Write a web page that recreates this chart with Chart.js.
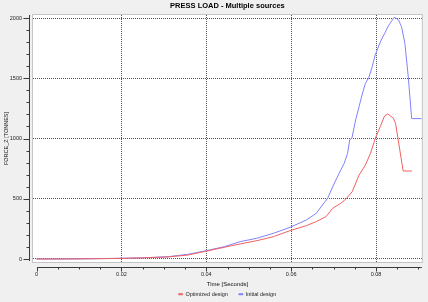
<!DOCTYPE html>
<html>
<head>
<meta charset="utf-8">
<script src="https://cdn.jsdelivr.net/npm/chart.js@4"></script>
<style>
  html, body { margin: 0; padding: 0; background: #f0f0f0; }
  canvas { display: block; }
</style>
</head>
<body>
<canvas id="chart" width="428" height="302"></canvas>
<script>
// Initial design (blue)
const initialTime = [0, 0.005, 0.01, 0.015, 0.02, 0.025, 0.031, 0.0357, 0.04, 0.0442, 0.048, 0.0519, 0.0558, 0.0597, 0.0636, 0.0659, 0.0686, 0.0698, 0.0713, 0.0725, 0.0733, 0.0738, 0.0743, 0.0752, 0.076, 0.0767, 0.0775, 0.0783, 0.0791, 0.0798, 0.081, 0.082, 0.083, 0.0837, 0.0843, 0.0853, 0.086, 0.0868, 0.0876, 0.0884, 0.0907];
const initialForce = [0, 0, 1, 3, 6, 10, 19, 39, 69, 102, 144, 172, 213, 262, 324, 379, 504, 600, 711, 794, 877, 988, 1002, 1154, 1264, 1361, 1458, 1505, 1596, 1693, 1800, 1870, 1940, 1975, 2006, 1984, 1929, 1790, 1513, 1165, 1165];

// Optimized design (red)
const optimizedTime = [0, 0.005, 0.01, 0.015, 0.02, 0.025, 0.031, 0.0357, 0.04, 0.0442, 0.048, 0.0519, 0.0558, 0.0597, 0.0636, 0.0659, 0.0682, 0.0698, 0.0717, 0.0729, 0.0744, 0.076, 0.0775, 0.0787, 0.0798, 0.081, 0.082, 0.0828, 0.0841, 0.0846, 0.0864, 0.0885];
const optimizedForce = [0, 0, 1, 3, 5, 9, 17, 33, 65, 97, 125, 152, 185, 235, 277, 310, 351, 421, 462, 498, 559, 697, 780, 877, 998, 1098, 1187, 1204, 1168, 1126, 730, 730];

const toPoints = (xs, ys) => xs.map((x, i) => ({ x: x, y: ys[i] }));

const FONT = "'Liberation Sans', Arial, sans-serif";
const isMajorX = v => Math.round(v * 1000) % 20 === 0;
const isMajorY = v => Math.round(v) % 500 === 0;

// plot background + offset axis lines like the original tool
const plotFrame = {
  id: "plotFrame",
  beforeDraw(chart) {
    const { ctx, chartArea: a } = chart;
    ctx.save();
    ctx.fillStyle = "#f0f0f0";
    ctx.fillRect(0, 0, chart.width, chart.height);
    ctx.fillStyle = "#ffffff";
    ctx.fillRect(a.left, a.top, a.right - a.left, a.bottom - a.top);
    ctx.strokeStyle = "#c4c4c4";
    ctx.lineWidth = 1;
    ctx.strokeRect(a.left - 0.5, a.top - 0.5, a.right - a.left + 1, a.bottom - a.top + 1);
    ctx.restore();
  },
  afterDraw(chart) {
    const { ctx, chartArea: a, scales } = chart;
    const x = scales.x, y = scales.y;
    ctx.save();
    ctx.strokeStyle = "#3a3a3a";
    ctx.lineWidth = 1;
    ctx.beginPath();
    // y axis
    const ax = Math.round(a.left) - 3 - 0.5;
    const y0 = Math.round(y.getPixelForValue(0));
    ctx.moveTo(ax, a.top);
    ctx.lineTo(ax, y0 + 2);
    y.ticks.forEach(t => {
      const py = Math.round(y.getPixelForValue(t.value)) + 0.5;
      const len = isMajorY(t.value) ? 6 : 3;
      ctx.moveTo(ax, py);
      ctx.lineTo(ax - len, py);
    });
    // x axis
    const ay = Math.round(a.bottom) + 5 + 0.5;
    const x0 = Math.round(x.getPixelForValue(0));
    ctx.moveTo(x0, ay);
    ctx.lineTo(a.right, ay);
    x.ticks.forEach(t => {
      const px = Math.round(x.getPixelForValue(t.value)) + 0.5;
      const len = isMajorX(t.value) ? 4 : 2;
      ctx.moveTo(px, ay);
      ctx.lineTo(px, ay + len);
    });
    ctx.stroke();
    ctx.restore();
  }
};

new Chart(document.getElementById("chart"), {
  type: "line",
  data: {
    datasets: [
      {
        label: "Optimized design",
        data: toPoints(optimizedTime, optimizedForce),
        borderColor: "#f06262",
        backgroundColor: "#f06262",
        borderWidth: 1,
        pointRadius: 0,
        tension: 0,
        fill: false
      },
      {
        label: "Initial design",
        data: toPoints(initialTime, initialForce),
        borderColor: "#8282ff",
        backgroundColor: "#8282ff",
        borderWidth: 1,
        pointRadius: 0,
        tension: 0,
        fill: false
      }
    ]
  },
  options: {
    responsive: false,
    animation: false,
    layout: { padding: { left: 0, right: 1, top: 0, bottom: -5 } },
    plugins: {
      title: {
        display: true,
        text: "PRESS LOAD - Multiple sources",
        fullSize: false,
        color: "#000",
        font: { family: FONT, size: 7.5, weight: "bold" },
        padding: { top: 1.5, bottom: 4.5 }
      },
      legend: {
        position: "bottom",
        fullSize: false,
        labels: {
          boxWidth: 4,
          boxHeight: 1,
          padding: 11,
          color: "#222",
          font: { family: FONT, size: 5.5 }
        }
      },
      tooltip: { enabled: false }
    },
    scales: {
      x: {
        type: "linear",
        min: -0.00085,
        max: 0.0908,
        afterFit: s => { s.height = 18.5; },
        ticks: {
          stepSize: 0.005,
          includeBounds: false,
          autoSkip: false,
          maxRotation: 0,
          padding: 9.5,
          color: "#222",
          font: { family: FONT, size: 5.5 },
          callback: v => (isMajorX(v) ? String(+v.toFixed(3)) : "")
        },
        grid: {
          drawTicks: false,
          color: ctx => (ctx.tick && isMajorX(ctx.tick.value) && Math.abs(ctx.tick.value) > 1e-9 ? "#555" : "transparent")
        },
        border: { display: false, dash: [1, 1] },
        title: {
          display: true,
          text: "Time [Seconds]",
          color: "#111",
          font: { family: FONT, size: 6 },
          padding: { top: 0, bottom: -7.1 }
        }
      },
      y: {
        min: -25,
        max: 2025,
        afterFit: s => { s.width = 33; },
        ticks: {
          stepSize: 100,
          includeBounds: false,
          padding: 11,
          color: "#222",
          font: { family: FONT, size: 5.5 },
          callback: v => (isMajorY(v) ? String(v) : "")
        },
        grid: {
          drawTicks: false,
          color: ctx => (ctx.tick && isMajorY(ctx.tick.value) ? "#555" : "transparent")
        },
        border: { display: false, dash: [1, 1] },
        title: {
          display: true,
          text: "FORCE_Z [TONNES]",
          color: "#111",
          font: { family: FONT, size: 5.5 },
          padding: { top: 3.2, bottom: 0 }
        }
      }
    }
  },
  plugins: [plotFrame]
});
</script>
</body>
</html>
